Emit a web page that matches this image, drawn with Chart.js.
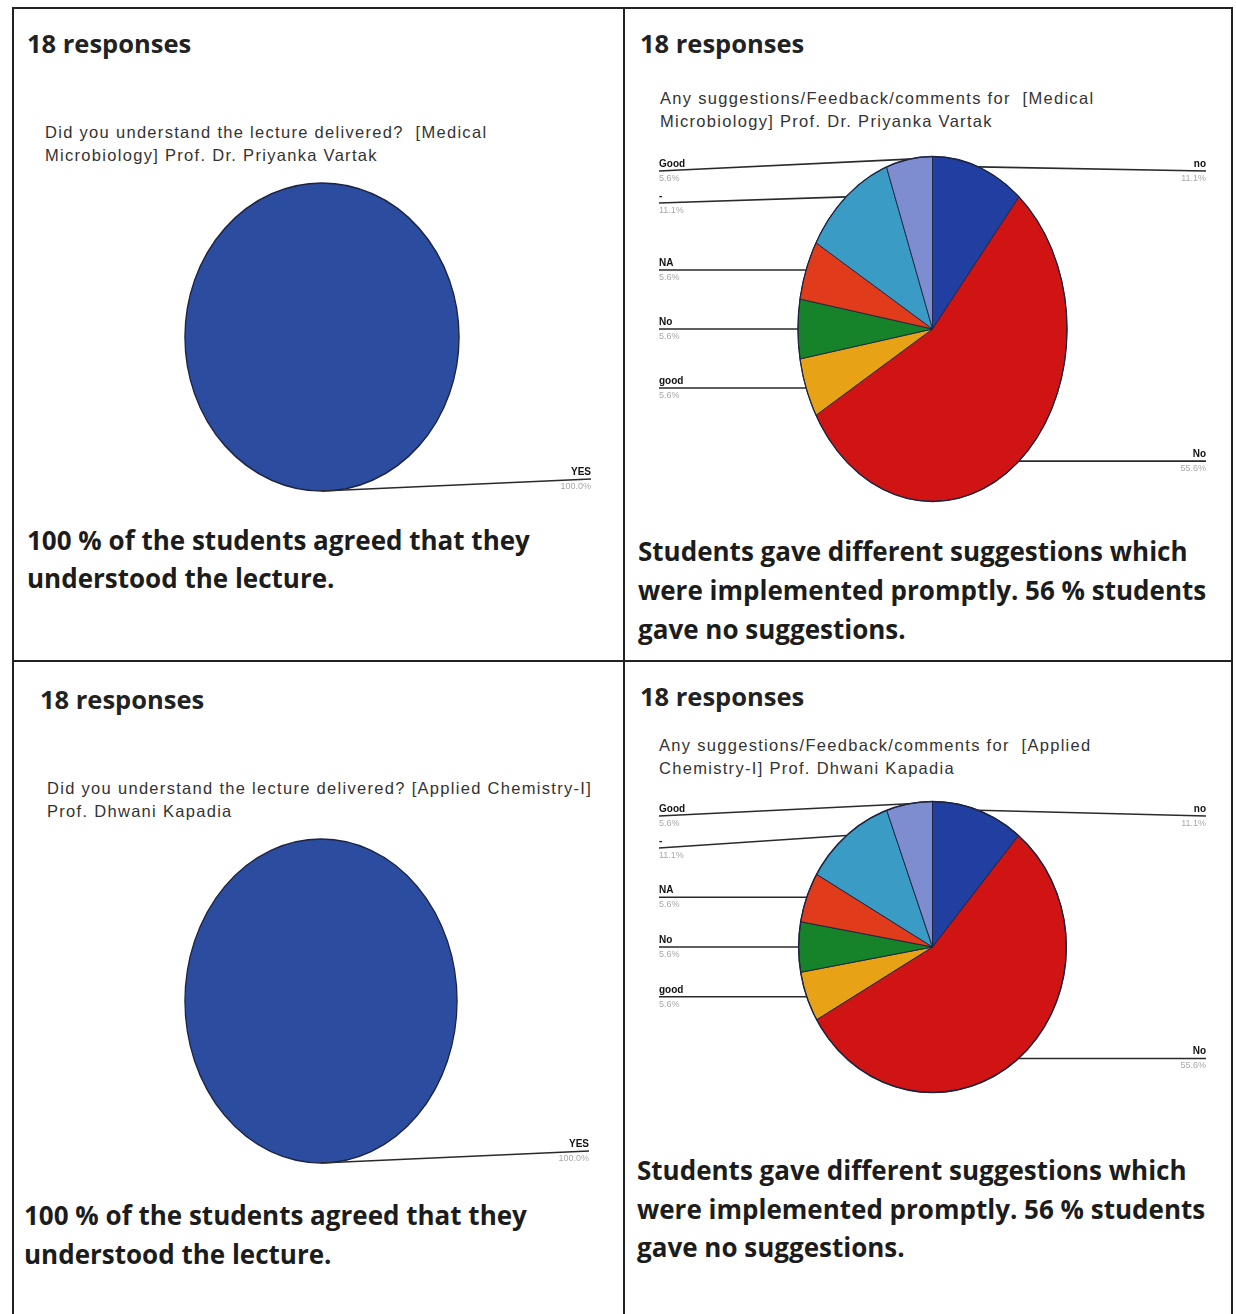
<!DOCTYPE html>
<html>
<head>
<meta charset="utf-8">
<script src="https://cdn.jsdelivr.net/npm/chart.js@4.4.0/dist/chart.umd.min.js"></script>
<style>
  body { margin: 0; background: #fff; }
  #page { position: relative; width: 1236px; height: 1314px; overflow: hidden; background: #fff; }
  .rule { position: absolute; background: #222; }
  .resp { position: absolute; font-family: "Open Sans", Lato, sans-serif; font-weight: 700; font-size: 25.5px; color: #222; white-space: nowrap; }
  .quest { position: absolute; font-family: "Liberation Sans", Arial, sans-serif; font-size: 16.5px; line-height: 23px; color: #333; white-space: nowrap; letter-spacing: 1.3px; }
  .note { position: absolute; font-family: "Open Sans", Lato, sans-serif; font-weight: 700; font-size: 26px; color: #1c1c1c; white-space: nowrap; }
  canvas { position: absolute; }
</style>
</head>
<body>
<div id="page">
  <div class="rule" style="left:13px;top:7px;width:1220px;height:2px"></div>
  <div class="rule" style="left:12px;top:7px;width:2px;height:1307px"></div>
  <div class="rule" style="left:1231px;top:7px;width:2px;height:1307px"></div>
  <div class="rule" style="left:623px;top:7px;width:2px;height:1307px"></div>
  <div class="rule" style="left:13px;top:660px;width:1220px;height:2px"></div>

  <div class="resp" style="left:27px;top:26px">18 responses</div>
  <div class="quest" style="left:45px;top:121px">Did you understand the lecture delivered?&nbsp; [Medical<br>Microbiology] Prof. Dr. Priyanka Vartak</div>
  <canvas id="c1" width="566" height="310" style="left:39px;top:182px"></canvas>
  <div class="note" style="left:27px;top:521px;line-height:38px">100 % of the students agreed that they<br>understood the lecture.</div>

  <div class="resp" style="left:640px;top:26px">18 responses</div>
  <div class="quest" style="left:660px;top:87px">Any suggestions/Feedback/comments for&nbsp; [Medical<br>Microbiology] Prof. Dr. Priyanka Vartak</div>
  <canvas id="c2" width="575" height="348" style="left:645px;top:155px"></canvas>
  <div class="note" style="left:638px;top:532px;line-height:39px">Students gave different suggestions which<br>were implemented promptly. 56 % students<br>gave no suggestions.</div>

  <div class="resp" style="left:40px;top:682px">18 responses</div>
  <div class="quest" style="left:47px;top:777px">Did you understand the lecture delivered? [Applied Chemistry-I]<br>Prof. Dhwani Kapadia</div>
  <canvas id="c3" width="564" height="326" style="left:39px;top:838px"></canvas>
  <div class="note" style="left:24px;top:1196px;line-height:39px">100 % of the students agreed that they<br>understood the lecture.</div>

  <div class="resp" style="left:640px;top:679px">18 responses</div>
  <div class="quest" style="left:659px;top:734px">Any suggestions/Feedback/comments for&nbsp; [Applied<br>Chemistry-I] Prof. Dhwani Kapadia</div>
  <canvas id="c4" width="575" height="294" style="left:645px;top:800px"></canvas>
  <div class="note" style="left:637px;top:1151px;line-height:38.5px">Students gave different suggestions which<br>were implemented promptly. 56 % students<br>gave no suggestions.</div>
</div>

<script>
// Medical Microbiology - Prof. Dr. Priyanka Vartak
const medUnderstoodLabels = ['YES'];
const medUnderstoodCounts = [18];
const medSuggestionLabels = ['no', 'No', 'good', 'No', 'NA', '-', 'Good'];
const medSuggestionCounts = [2, 10, 1, 1, 1, 2, 1];

// Applied Chemistry-I - Prof. Dhwani Kapadia
const chemUnderstoodLabels = ['YES'];
const chemUnderstoodCounts = [18];
const chemSuggestionLabels = ['no', 'No', 'good', 'No', 'NA', '-', 'Good'];
const chemSuggestionCounts = [2, 10, 1, 1, 1, 2, 1];

const yesColors = ['#2b4c9f'];
const suggestionColors = ['#203fa0', '#d01414', '#e8a216', '#16832a', '#e03c1c', '#3a9cc4', '#7d8dcf'];

// squeezes the round pie into the oval of the scan and draws excel-like leader labels
const leaderLines = {
  id: 'leaderLines',
  beforeDatasetsDraw(chart, args, opts) {
    const arc = chart.getDatasetMeta(0).data[0];
    const ctx = chart.ctx;
    ctx.save();
    ctx.translate(arc.x, 0);
    ctx.scale(opts.squeeze, 1);
    ctx.translate(-arc.x, 0);
  },
  afterDatasetsDraw(chart) {
    const ctx = chart.ctx;
    const arc = chart.getDatasetMeta(0).data[0];
    // dark rim round the whole pie
    ctx.strokeStyle = '#1d2340';
    ctx.lineWidth = 1.5;
    ctx.beginPath();
    ctx.arc(arc.x, arc.y, arc.outerRadius, 0, Math.PI * 2);
    ctx.stroke();
    ctx.restore();
  },
  afterDraw(chart, args, opts) {
    const ctx = chart.ctx;
    const meta = chart.getDatasetMeta(0);
    const values = chart.data.datasets[0].data;
    const total = values.reduce((a, b) => a + b, 0);
    const area = chart.chartArea;
    const items = meta.data.map((arc, i) => {
      const a = (arc.startAngle + arc.endAngle) / 2;
      const r = arc.outerRadius;
      const px = arc.x + r * opts.squeeze * Math.cos(a);
      const py = arc.y + r * Math.sin(a);
      return { i, px, py, y: py, left: Math.cos(a) < -1e-6 };
    });
    [true, false].forEach(side => {
      const list = items.filter(it => it.left === side).sort((p, q) => p.py - q.py);
      let prev = -Infinity;
      list.forEach(it => {
        it.y = Math.max(it.y, area.top + 15, prev + 32);
        it.y = Math.min(it.y, area.bottom - 12);
        prev = it.y;
      });
    });
    ctx.save();
    items.forEach(it => {
      const lx = it.left ? area.left + 13 : area.right - 13;
      ctx.strokeStyle = '#2a2a2a';
      ctx.lineWidth = 1.6;
      ctx.beginPath();
      ctx.moveTo(lx, it.y);
      ctx.lineTo(it.px, it.py);
      ctx.stroke();
      ctx.textAlign = it.left ? 'left' : 'right';
      ctx.fillStyle = '#111';
      ctx.font = 'bold 10px "Liberation Sans", Arial, sans-serif';
      ctx.textBaseline = 'bottom';
      ctx.fillText(chart.data.labels[it.i], lx, it.y - 2);
      ctx.fillStyle = '#a8a8a8';
      ctx.font = '9px "Liberation Sans", Arial, sans-serif';
      ctx.textBaseline = 'top';
      ctx.fillText((values[it.i] / total * 100).toFixed(1) + '%', lx, it.y + 3);
    });
    ctx.restore();
  }
};

function makePie(id, labels, counts, colors, squeeze) {
  return new Chart(document.getElementById(id), {
    type: 'pie',
    data: {
      labels: labels,
      datasets: [{
        data: counts,
        backgroundColor: colors,
        borderColor: '#1d2340',
        borderWidth: counts.length > 1 ? 1 : 0
      }]
    },
    options: {
      responsive: false,
      animation: false,
      layout: { padding: 1 },
      plugins: {
        legend: { display: false },
        tooltip: { enabled: false },
        leaderLines: { squeeze: squeeze }
      }
    },
    plugins: [leaderLines]
  });
}

makePie('c1', medUnderstoodLabels, medUnderstoodCounts, yesColors, 0.89);
makePie('c2', medSuggestionLabels, medSuggestionCounts, suggestionColors, 0.78);
makePie('c3', chemUnderstoodLabels, chemUnderstoodCounts, yesColors, 0.84);
makePie('c4', chemSuggestionLabels, chemSuggestionCounts, suggestionColors, 0.92);
</script>
</body>
</html>
